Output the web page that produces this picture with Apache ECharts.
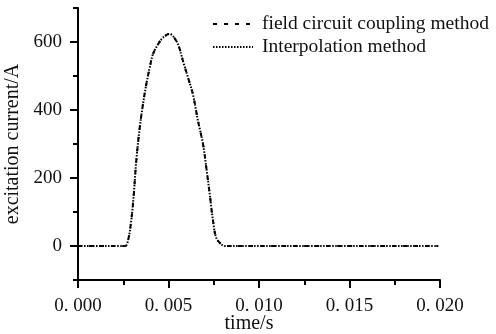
<!DOCTYPE html>
<html>
<head>
<meta charset="utf-8">
<script src="https://cdn.jsdelivr.net/npm/echarts@6/dist/echarts.min.js"></script>
<style>html,body{margin:0;padding:0;background:#fff;}#c{width:496px;height:334px;}</style>
</head>
<body>
<div id="c"></div>
<script>
// time (s)
var timeValues = [0, 0.0005, 0.001, 0.0015, 0.002, 0.0026, 0.00276, 0.00294, 0.00308, 0.00322, 0.00341, 0.00359, 0.00377, 0.00396, 0.00414, 0.00442, 0.0047, 0.00507, 0.00525, 0.00553, 0.0058, 0.00608, 0.00635, 0.00663, 0.00691, 0.00709, 0.00728, 0.00746, 0.00764, 0.00792, 0.00812, 0.009, 0.01, 0.011, 0.012, 0.013, 0.014, 0.015, 0.016, 0.017, 0.018, 0.019, 0.0199];
// excitation current (A)
var fieldCircuitValues = [0, 0, 0, 0, 0, 0, 15, 74, 151, 251, 348, 417, 475, 524, 564, 593, 613, 624, 617, 593, 544, 495, 446, 368, 299, 230, 152, 74, 24, 5, 0, 0, 0, 0, 0, 0, 0, 0, 0, 0, 0, 0, 0];
var interpolationValues = [0, 0, 0, 0, 0, 0, 15, 74, 151, 251, 348, 417, 475, 524, 564, 593, 613, 624, 617, 593, 544, 495, 446, 368, 299, 230, 152, 74, 24, 5, 0, 0, 0, 0, 0, 0, 0, 0, 0, 0, 0, 0, 0];
var seriesNames = ['field circuit coupling method', 'Interpolation method'];
var xMajorTicks = [0, 0.005, 0.01, 0.015, 0.02];
var xMinorTicks = [0.0025, 0.0075, 0.0125, 0.0175];
var yMajorTicks = [0, 200, 400, 600];
var yMinorTicks = [-100, 100, 300, 500, 700];

function pairs(xs, ys) { return xs.map(function (x, i) { return [x, ys[i]]; }); }
var FONT = '"Liberation Serif", "DejaVu Serif", serif';

var chart = echarts.init(document.getElementById('c'), null, {renderer: 'canvas'});
chart.setOption({
  animation: false,
  backgroundColor: '#fff',
  grid: {left: 78, right: 56, top: 8, bottom: 54, containLabel: false, outerBoundsMode: 'none'},
  legend: {
    left: 207, top: 9, orient: 'vertical', itemWidth: 40, itemHeight: 14, itemGap: 3,
    itemStyle: {opacity: 0},
    textStyle: {fontFamily: FONT, fontSize: 19.5, color: '#111', lineHeight: 20, padding: [0, 0, 0, 4]},
    data: seriesNames
  },
  xAxis: [{
    type: 'value', min: 0, max: 0.02,
    name: 'time/s', nameLocation: 'middle', nameGap: 34, nameMoveOverlap: false,
    nameTextStyle: {fontFamily: FONT, fontSize: 20, color: '#111', padding: [0, 20, 0, 0]},
    axisLine: {show: true, onZero: false, lineStyle: {color: '#000', width: 2}},
    axisTick: {show: true, customValues: xMajorTicks, length: 8, lineStyle: {color: '#000', width: 2}},
    axisLabel: {customValues: xMajorTicks, margin: 17, fontFamily: FONT, fontSize: 19, color: '#111',
      formatter: function (v) { return v.toFixed(3).replace('.', '. '); }},
    splitLine: {show: false}
  }, {
    type: 'value', min: 0, max: 0.02, position: 'bottom',
    axisLine: {show: false, onZero: false},
    axisTick: {show: true, customValues: xMinorTicks, length: 5, lineStyle: {color: '#000', width: 2}},
    axisLabel: {show: false}, splitLine: {show: false}
  }],
  yAxis: [{
    type: 'value', min: -100, max: 700,
    name: 'excitation current/A', nameLocation: 'middle', nameGap: 55, nameRotate: 90, nameMoveOverlap: false,
    nameTextStyle: {fontFamily: FONT, fontSize: 20, color: '#111'},
    axisLine: {show: true, onZero: false, lineStyle: {color: '#000', width: 2}},
    axisTick: {show: true, customValues: yMajorTicks, length: 8, lineStyle: {color: '#000', width: 2}},
    axisLabel: {customValues: yMajorTicks, margin: 16, fontFamily: FONT, fontSize: 19, color: '#111'},
    splitLine: {show: false}
  }, {
    type: 'value', min: -100, max: 700, position: 'left',
    axisLine: {show: false, onZero: false},
    axisTick: {show: true, customValues: yMinorTicks, length: 5, lineStyle: {color: '#000', width: 2}},
    axisLabel: {show: false}, splitLine: {show: false}
  }],
  series: [{
    name: seriesNames[0], type: 'line', smooth: 0.35, symbol: 'none',
    xAxisIndex: 0, yAxisIndex: 0,
    lineStyle: {color: '#000', width: 2, type: [4, 7]},
    itemStyle: {color: '#000'},
    data: pairs(timeValues, fieldCircuitValues)
  }, {
    name: seriesNames[1], type: 'line', smooth: 0.35, symbol: 'none',
    xAxisIndex: 0, yAxisIndex: 0,
    lineStyle: {color: '#000', width: 2, type: [1.5, 1.5]},
    itemStyle: {color: '#000'},
    data: pairs(timeValues, interpolationValues)
  }]
});
</script>
</body>
</html>
